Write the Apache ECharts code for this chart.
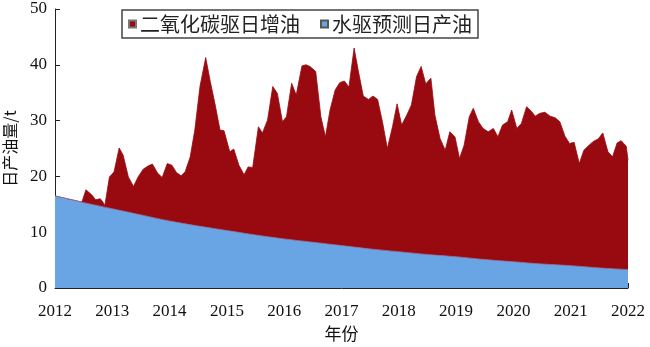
<!DOCTYPE html>
<html><head><meta charset="utf-8">
<script src="https://cdn.jsdelivr.net/npm/echarts@6/dist/echarts.min.js"></script>
<style>html,body{margin:0;padding:0;background:#fff}#c{width:650px;height:347px}</style>
</head><body><div id="c"></div>
<script>
const xTicks = [2012, 2013, 2014, 2015, 2016, 2017, 2018, 2019, 2020, 2021, 2022];
const yTicks = [0, 10, 20, 30, 40, 50];
const seriesNames = ['二氧化碳驱日增油', '水驱预测日产油'];

const redYears = [2012.00,2012.47,2012.54,2012.64,2012.71,2012.79,2012.83,2012.87,2012.95,2013.03,2013.12,2013.19,2013.28,2013.37,2013.45,2013.54,2013.63,2013.70,2013.79,2013.87,2013.96,2014.04,2014.12,2014.20,2014.27,2014.36,2014.44,2014.53,2014.63,2014.71,2014.79,2014.88,2014.95,2015.05,2015.12,2015.21,2015.30,2015.37,2015.45,2015.55,2015.62,2015.71,2015.80,2015.88,2015.97,2016.04,2016.13,2016.21,2016.31,2016.38,2016.45,2016.55,2016.64,2016.72,2016.80,2016.89,2016.97,2017.05,2017.13,2017.22,2017.29,2017.38,2017.47,2017.55,2017.63,2017.72,2017.80,2017.89,2017.97,2018.05,2018.14,2018.22,2018.31,2018.39,2018.47,2018.56,2018.63,2018.72,2018.81,2018.89,2018.98,2019.06,2019.14,2019.23,2019.30,2019.39,2019.47,2019.56,2019.65,2019.73,2019.81,2019.90,2019.97,2020.06,2020.14,2020.23,2020.32,2020.38,2020.46,2020.55,2020.64,2020.73,2020.81,2020.90,2020.98,2021.06,2021.15,2021.23,2021.32,2021.40,2021.48,2021.56,2021.65,2021.73,2021.81,2021.88,2021.97,2022.00];
const redValues = [16.5,15.4,17.6,16.7,15.8,16.0,15.5,14.8,19.9,20.8,25.1,23.8,19.9,18.2,19.9,21.3,21.9,22.2,20.6,19.8,22.3,22.0,20.7,20.1,20.8,23.5,28.3,36.1,41.3,37.0,33.1,28.3,28.2,24.4,24.9,22.0,20.3,21.7,21.6,28.9,27.8,30.1,36.1,34.9,29.8,30.7,36.7,34.6,39.8,40.0,39.7,38.8,30.7,27.1,31.9,35.5,36.8,37.1,36.0,43.0,39.1,34.4,33.8,34.4,33.8,29.5,25.0,28.9,33.0,29.2,31.0,32.8,37.9,39.7,36.6,37.6,31.0,26.8,24.7,28.0,27.1,23.2,25.6,30.7,32.2,29.8,28.6,28.0,28.6,27.1,29.2,29.8,31.9,28.6,29.5,32.5,31.6,30.8,31.3,31.5,30.8,30.5,29.8,27.2,25.9,26.1,22.3,24.7,25.6,26.3,26.7,27.8,24.4,23.5,26.0,26.4,25.4,22.9];

const blueYears = [2012,2012.5,2013,2013.5,2014,2014.5,2015,2015.5,2016,2016.5,2017,2017.5,2018,2018.5,2019,2019.5,2020,2020.5,2021,2021.5,2022];
const blueValues = [16.5,15.3,14.2,13.1,12.0,11.1,10.3,9.5,8.8,8.2,7.6,7.0,6.5,6.0,5.6,5.1,4.7,4.3,4.0,3.6,3.3];

const zip = (xs, ys) => xs.map((x, i) => [x, ys[i]]);
const serif = '"Liberation Serif","Times New Roman",serif';
const cjk = '"Noto Sans CJK SC","Noto Sans",sans-serif';

const chart = echarts.init(document.getElementById('c'), null, {renderer: 'canvas'});
chart.setOption({
  animation: false,
  backgroundColor: '#fff',
  grid: {left: 55, right: 22, top: 9, bottom: 59, containLabel: false, outerBoundsMode: 'none'},
  legend: {
    left: 122, top: 10,
    padding: [4, 6, 4, 6],
    itemGap: 20, itemWidth: 7, itemHeight: 7,
    icon: 'rect',
    borderColor: '#444', borderWidth: 1.5,
    backgroundColor: '#fff',
    textStyle: {fontFamily: cjk, fontSize: 20, color: '#222', padding: [0, 0, 0, -1]},
    data: seriesNames
  },
  xAxis: {
    type: 'value', min: xTicks[0], max: xTicks[xTicks.length - 1], interval: 1,
    name: '年份', nameLocation: 'middle', nameGap: 35,
    nameTextStyle: {fontFamily: cjk, fontSize: 17, color: '#111'},
    axisLine: {lineStyle: {color: '#222', width: 1}},
    axisTick: {inside: true, length: 5, lineStyle: {color: '#222'}},
    axisLabel: {fontFamily: serif, fontSize: 17, color: '#111', margin: 15, formatter: v => String(v)},
    splitLine: {show: false}
  },
  yAxis: {
    type: 'value', min: yTicks[0], max: yTicks[yTicks.length - 1], interval: 10,
    name: '日产油量/t', nameLocation: 'middle', nameGap: 37, nameRotate: 90,
    nameTextStyle: {fontFamily: cjk, fontSize: 16, color: '#111'},
    axisLine: {show: true, lineStyle: {color: '#222', width: 1}},
    axisTick: {show: true, inside: true, length: 5, lineStyle: {color: '#222'}},
    axisLabel: {fontFamily: serif, fontSize: 17, color: '#111', margin: 8},
    splitLine: {show: false}
  },
  series: [
    {
      name: seriesNames[0], type: 'line', data: zip(redYears, redValues),
      showSymbol: false, symbol: 'none', z: 2,
      itemStyle: {color: '#980A0F', borderColor: '#777', borderWidth: 0.5},
      lineStyle: {color: '#980A0F', width: 0.8},
      areaStyle: {color: '#980A0F', opacity: 1}
    },
    {
      name: seriesNames[1], type: 'line', data: zip(blueYears, blueValues),
      showSymbol: false, symbol: 'none', z: 3, smooth: 0.3,
      itemStyle: {color: '#69A5E4', borderColor: '#555', borderWidth: 0.5},
      lineStyle: {color: '#8a7aa8', width: 0.8},
      areaStyle: {color: '#69A5E4', opacity: 1}
    }
  ]
});
</script></body></html>
